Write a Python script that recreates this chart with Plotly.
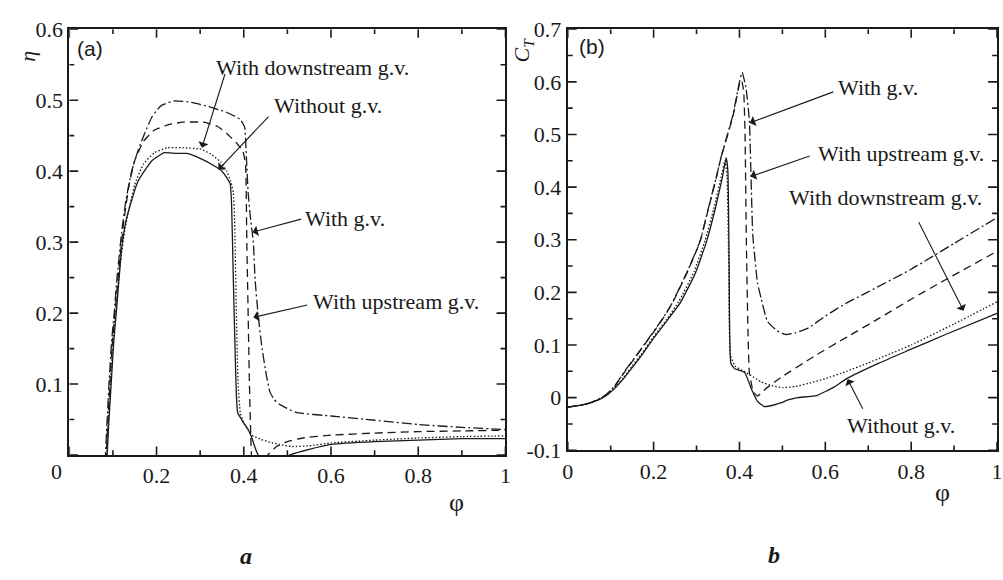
import plotly.graph_objects as go

# ---------------- Panel (a): efficiency eta vs phi ----------------
a_without_x = [0.086,0.09,0.096,0.102,0.109,0.12,0.13,0.143,0.157,0.172,0.19,0.218,0.245,0.27,0.3,0.331,0.35,0.361,0.369,0.372,0.376,0.38,0.383,0.386,0.395,0.41,0.418,0.425,0.433,0.45,0.48,0.505,0.55,0.6,0.7,0.8,0.9,1.0]
a_without_y = [-0.01,0.04,0.1,0.16,0.21,0.291,0.33,0.359,0.385,0.4,0.415,0.426,0.425,0.425,0.418,0.408,0.4,0.391,0.382,0.355,0.25,0.15,0.085,0.06,0.05,0.036,0.025,0.012,0.0,-0.012,-0.012,0.0,0.008,0.015,0.019,0.021,0.023,0.023]

a_down_x = [0.085,0.089,0.094,0.1,0.107,0.117,0.128,0.15,0.17,0.195,0.225,0.26,0.302,0.325,0.347,0.361,0.37,0.376,0.379,0.383,0.387,0.392,0.4,0.41,0.418,0.44,0.46,0.482,0.51,0.55,0.6,0.7,0.8,0.9,1.0]
a_down_y = [-0.01,0.04,0.1,0.16,0.21,0.27,0.32,0.381,0.41,0.426,0.433,0.433,0.431,0.424,0.413,0.4,0.386,0.37,0.33,0.2,0.1,0.06,0.045,0.035,0.028,0.022,0.018,0.015,0.012,0.013,0.017,0.021,0.024,0.026,0.027]

a_up_x = [0.084,0.088,0.093,0.099,0.106,0.115,0.125,0.137,0.15,0.17,0.195,0.23,0.26,0.308,0.34,0.361,0.383,0.398,0.404,0.407,0.41,0.413,0.416,0.42,0.44,0.455,0.475,0.5,0.535,0.6,0.7,0.8,0.9,1.0]
a_up_y = [-0.01,0.04,0.1,0.16,0.21,0.27,0.33,0.38,0.415,0.442,0.458,0.466,0.469,0.469,0.463,0.453,0.44,0.428,0.41,0.3,0.2,0.1,0.03,-0.01,-0.012,0.0,0.012,0.019,0.024,0.028,0.031,0.033,0.034,0.035]

a_with_x = [0.082,0.086,0.091,0.097,0.103,0.109,0.12,0.13,0.143,0.158,0.172,0.19,0.21,0.24,0.28,0.32,0.36,0.392,0.402,0.406,0.41,0.416,0.422,0.426,0.433,0.442,0.452,0.46,0.47,0.483,0.52,0.6,0.7,0.8,0.9,1.0]
a_with_y = [-0.01,0.04,0.1,0.16,0.2,0.247,0.314,0.36,0.4,0.43,0.452,0.477,0.492,0.499,0.497,0.491,0.483,0.473,0.462,0.42,0.37,0.33,0.3,0.247,0.197,0.15,0.112,0.089,0.078,0.071,0.06,0.055,0.049,0.043,0.039,0.036]

# ---------------- Panel (b): torque coefficient C_T vs phi ----------------
b_without_x = [0.0,0.04,0.07,0.09,0.11,0.13,0.15,0.17,0.2,0.23,0.262,0.297,0.323,0.343,0.36,0.369,0.373,0.376,0.38,0.389,0.412,0.427,0.442,0.458,0.48,0.496,0.515,0.535,0.58,0.62,0.65,0.726,0.8,0.88,1.0]
b_without_y = [-0.018,-0.013,-0.005,0.004,0.018,0.036,0.057,0.078,0.113,0.145,0.18,0.236,0.296,0.357,0.418,0.456,0.43,0.25,0.065,0.055,0.048,0.018,-0.007,-0.017,-0.014,-0.01,-0.004,0.0,0.004,0.02,0.036,0.066,0.092,0.12,0.16]

b_down_x = [0.0,0.04,0.07,0.09,0.11,0.13,0.15,0.17,0.2,0.23,0.259,0.294,0.32,0.34,0.357,0.366,0.371,0.375,0.379,0.39,0.41,0.427,0.45,0.475,0.5,0.53,0.56,0.6,0.65,0.7,0.8,0.9,1.0]
b_down_y = [-0.018,-0.013,-0.004,0.005,0.019,0.038,0.06,0.081,0.116,0.148,0.183,0.239,0.299,0.358,0.418,0.45,0.42,0.25,0.08,0.06,0.05,0.042,0.03,0.023,0.019,0.021,0.027,0.036,0.05,0.066,0.1,0.14,0.182]

b_up_x = [0.0,0.04,0.07,0.09,0.11,0.135,0.165,0.196,0.22,0.242,0.277,0.308,0.327,0.346,0.357,0.385,0.4,0.405,0.41,0.413,0.416,0.42,0.423,0.432,0.442,0.46,0.496,0.573,0.65,0.726,0.8,0.88,1.0]
b_up_y = [-0.018,-0.013,-0.004,0.006,0.022,0.052,0.085,0.12,0.148,0.177,0.236,0.296,0.357,0.418,0.456,0.535,0.596,0.603,0.58,0.5,0.3,0.12,0.048,0.012,0.003,0.016,0.038,0.078,0.115,0.151,0.187,0.224,0.278]

b_with_x = [0.0,0.04,0.07,0.09,0.11,0.135,0.165,0.196,0.22,0.242,0.277,0.308,0.327,0.346,0.357,0.385,0.4,0.406,0.415,0.423,0.427,0.431,0.442,0.45,0.465,0.488,0.507,0.53,0.56,0.6,0.65,0.7,0.8,0.9,1.0]
b_with_y = [-0.018,-0.013,-0.004,0.006,0.023,0.053,0.086,0.121,0.149,0.178,0.237,0.297,0.358,0.419,0.457,0.538,0.6,0.618,0.59,0.527,0.418,0.309,0.218,0.19,0.145,0.127,0.12,0.123,0.132,0.155,0.18,0.201,0.244,0.293,0.342]

# tick positions / labels
a_x_ticks = [0.0, 0.2, 0.4, 0.6, 0.8, 1.0]
a_x_labels = ["", "0.2", "0.4", "0.6", "0.8", "1"]
a_x_minor = [0.1, 0.3, 0.5, 0.7, 0.9]
a_y_ticks = [0.0, 0.1, 0.2, 0.3, 0.4, 0.5, 0.6]
a_y_labels = ["", "0.1", "0.2", "0.3", "0.4", "0.5", "0.6"]
a_y_minor = [0.05, 0.15, 0.25, 0.35, 0.45, 0.55]
b_x_ticks = [0.0, 0.2, 0.4, 0.6, 0.8, 1.0]
b_x_labels = ["0", "0.2", "0.4", "0.6", "0.8", "1"]
b_x_minor = [0.1, 0.3, 0.5, 0.7, 0.9]
b_y_ticks = [-0.1, 0.0, 0.1, 0.2, 0.3, 0.4, 0.5, 0.6, 0.7]
b_y_labels = ["-0.1", "0", "0.1", "0.2", "0.3", "0.4", "0.5", "0.6", "0.7"]
b_y_minor = [-0.05, 0.05, 0.15, 0.25, 0.35, 0.45, 0.55, 0.65]

INK = "#1a1a1a"
SERIF = "Liberation Serif"
styles = {
    "without": dict(color=INK, width=1.3, dash="solid", shape="spline", smoothing=0.4),
    "down": dict(color=INK, width=1.3, dash="1.5px,2px", shape="spline", smoothing=0.4),
    "up": dict(color=INK, width=1.3, dash="8px,5px", shape="spline", smoothing=0.4),
    "with": dict(color=INK, width=1.3, dash="10px,3px,2px,3px", shape="spline", smoothing=0.4),
}

# panel geometry (pixels of the 1003x580 page -> paper fractions)
W, H = 1003, 580
A_PX = dict(l=64, r=505, t=18, b=463)
B_PX = dict(l=568, r=1002, t=18, b=458)
A_XR, A_YR = [0, 1], [0, 0.6]
B_XR, B_YR = [0, 1], [-0.1, 0.7]

fig = go.Figure()
for xs, ys, key in [(a_without_x, a_without_y, "without"), (a_down_x, a_down_y, "down"),
                    (a_up_x, a_up_y, "up"), (a_with_x, a_with_y, "with")]:
    fig.add_trace(go.Scatter(x=xs, y=ys, mode="lines", line=styles[key], xaxis="x", yaxis="y",
                             showlegend=False, hoverinfo="skip"))
for xs, ys, key in [(b_without_x, b_without_y, "without"), (b_down_x, b_down_y, "down"),
                    (b_up_x, b_up_y, "up"), (b_with_x, b_with_y, "with")]:
    fig.add_trace(go.Scatter(x=xs, y=ys, mode="lines", line=styles[key], xaxis="x2", yaxis="y2",
                             showlegend=False, hoverinfo="skip"))

# inward tick marks as thin line traces: positions come from the tick lists,
# lengths are given in pixels and converted with each axis' scale
def tick_trace(px, xr, yr, xvals_major, xvals_minor, yvals_major, yvals_minor, xa, ya):
    sx = (xr[1] - xr[0]) / (px["r"] - px["l"])   # data units per pixel (x)
    sy = (yr[1] - yr[0]) / (px["b"] - px["t"])   # data units per pixel (y)
    xs, ys = [], []
    for vals, ln in [(xvals_major, 9), (xvals_minor, 5)]:
        for v in vals:
            xs += [v, v, None, v, v, None]
            ys += [yr[0], yr[0] + ln * sy, None, yr[1], yr[1] - ln * sy, None]
    for vals, ln in [(yvals_major, 9), (yvals_minor, 5)]:
        for v in vals:
            xs += [xr[0], xr[0] + ln * sx, None, xr[1], xr[1] - ln * sx, None]
            ys += [v, v, None, v, v, None]
    return go.Scatter(x=xs, y=ys, mode="lines", line=dict(color=INK, width=1.6),
                      xaxis=xa, yaxis=ya, showlegend=False, hoverinfo="skip", connectgaps=False)

fig.add_trace(tick_trace(A_PX, A_XR, A_YR, a_x_ticks, a_x_minor, a_y_ticks, a_y_minor, "x", "y"))
fig.add_trace(tick_trace(B_PX, B_XR, B_YR, b_x_ticks, b_x_minor, b_y_ticks, b_y_minor, "x2", "y2"))

tickfont = dict(family=SERIF, size=22, color=INK)
main = dict(showline=True, linewidth=2, linecolor=INK, mirror=True, ticks="",
            showgrid=False, zeroline=False, tickfont=tickfont, fixedrange=True)

fig.update_layout(
    width=W, height=H,
    margin=dict(l=0, r=0, t=0, b=0),
    paper_bgcolor="white", plot_bgcolor="white",
    xaxis=dict(domain=[A_PX["l"]/W, A_PX["r"]/W], range=A_XR, anchor="y",
               tickmode="array", tickvals=a_x_ticks, ticktext=a_x_labels, **main),
    yaxis=dict(domain=[(H-A_PX["b"])/H, (H-A_PX["t"])/H], range=A_YR, anchor="x",
               tickmode="array", tickvals=a_y_ticks, ticktext=a_y_labels, **main),
    xaxis2=dict(domain=[B_PX["l"]/W, B_PX["r"]/W], range=B_XR, anchor="y2",
                tickmode="array", tickvals=b_x_ticks, ticktext=b_x_labels, **main),
    yaxis2=dict(domain=[(H-B_PX["b"])/H, (H-B_PX["t"])/H], range=B_YR, anchor="x2",
                tickmode="array", tickvals=b_y_ticks, ticktext=b_y_labels, **main),
)

ann = []
txtfont = dict(family=SERIF, size=22, color=INK)

def text(x, y, s, xref, yref, **kw):
    d = dict(x=x, y=y, xref=xref, yref=yref, text=s, showarrow=False, font=txtfont,
             xanchor="center", yanchor="middle")
    d.update(kw)
    ann.append(d)

def arrow(tx, ty, hx, hy, xref, yref):
    ann.append(dict(x=hx, y=hy, ax=tx, ay=ty, xref=xref, yref=yref, axref=xref, ayref=yref,
                    text="", showarrow=True, arrowhead=1, arrowsize=1.6, arrowwidth=1.1,
                    arrowcolor=INK, standoff=0, startstandoff=0))

# panel (a) annotations
text(0.558, 0.546, "With downstream g.v.", "x", "y")
arrow(0.358, 0.539, 0.304, 0.433, "x", "y")
text(0.592, 0.492, "Without g.v.", "x", "y")
arrow(0.46, 0.479, 0.342, 0.402, "x", "y")
text(0.633, 0.334, "With g.v.", "x", "y")
arrow(0.535, 0.333, 0.42, 0.314, "x", "y")
text(0.748, 0.216, "With upstream g.v.", "x", "y")
arrow(0.549, 0.212, 0.422, 0.194, "x", "y")

# panel (b) annotations
text(0.7235, 0.589, "With g.v.", "x2", "y2")
arrow(0.622, 0.582, 0.424, 0.522, "x2", "y2")
text(0.776, 0.464, "With upstream g.v.", "x2", "y2")
arrow(0.567, 0.46, 0.426, 0.42, "x2", "y2")
text(0.74, 0.38, "With downstream g.v.", "x2", "y2")
arrow(0.816, 0.336, 0.922, 0.165, "x2", "y2")
text(0.776, -0.053, "Without g.v.", "x2", "y2")
arrow(0.689, -0.024, 0.652, 0.035, "x2", "y2")

# panel tags
text(85/W, 1-38/H, "(a)", "paper", "paper", font=dict(family="Liberation Sans", size=21, color=INK))
text(593/W, 1-36/H, "(b)", "paper", "paper", font=dict(family="Liberation Sans", size=21, color=INK))
# shared origin label of panel (a)
text(0, 0, "0", "x", "y", xshift=-13, yshift=-16)
# axis titles
text(21/W, 1-46/H, "<i>η</i>", "paper", "paper", textangle=-90, font=dict(family=SERIF, size=22, color=INK))
text(523/W, 1-40/H, "<i>C<sub>T</sub></i>", "paper", "paper", textangle=-90, font=dict(family=SERIF, size=22, color=INK))
text(455/W, 1-513/H, "φ", "paper", "paper", font=dict(family=SERIF, size=26, color=INK))
text(947/W, 1-502/H, "φ", "paper", "paper", font=dict(family=SERIF, size=26, color=INK))
# sub-figure letters
text(243/W, 1-569/H, "<b><i>a</i></b>", "paper", "paper", font=dict(family=SERIF, size=24, color=INK))
text(777/W, 1-567/H, "<b><i>b</i></b>", "paper", "paper", font=dict(family=SERIF, size=24, color=INK))

fig.update_layout(annotations=ann)
fig.write_html("out.html")
